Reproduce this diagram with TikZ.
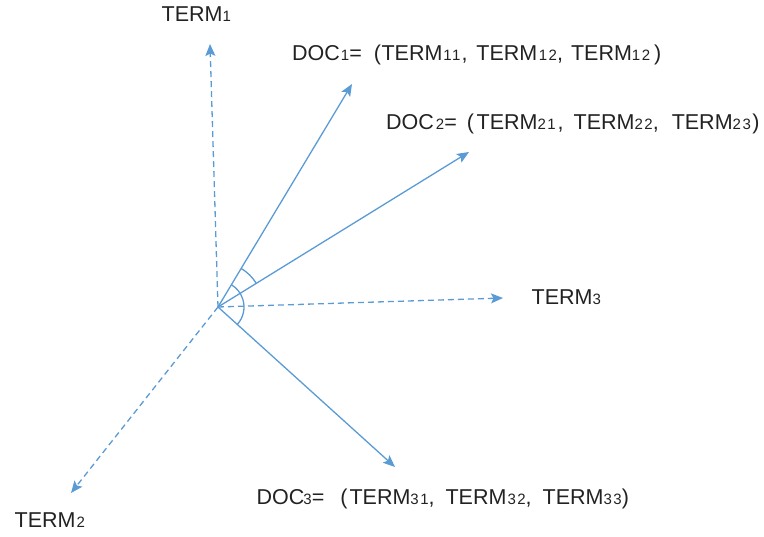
\documentclass[tikz,border=0pt]{standalone}
\usepackage{fontspec}
\setmainfont{Liberation Sans}
\newfontfamily\subdigits[LetterSpace=10]{Liberation Sans}
\usetikzlibrary{arrows.meta}
\definecolor{axisblue}{HTML}{5B9BD5}
\definecolor{labelgray}{HTML}{222222}
% index digits and manual gaps for the labels
\newcommand{\ix}[1]{{\subdigits\fontsize{15}{15}\selectfont #1}}
\newcommand{\gp}[1]{\hspace{#1pt}}
\begin{document}
\begin{tikzpicture}[x=1pt,y=-1pt,
  vec/.style={draw=axisblue,line width=1.3pt,-{Stealth[length=12pt,width=10pt,inset=2.5pt]}},
  axis/.style={vec,dash pattern=on 6pt off 4pt},
  angle/.style={draw=axisblue,line width=1.3pt},
  lbl/.style={anchor=base west,inner sep=0pt,text=labelgray,font=\fontsize{21.5}{24}\selectfont}]
\useasboundingbox (0,0) rectangle (764,537);
% origin and arrow tips
\coordinate (O) at (218,307);
\coordinate (t1) at (210,44);
\coordinate (t2) at (71,493);
\coordinate (t3) at (503,298);
\coordinate (d1) at (352,84);
\coordinate (d2) at (469,152);
\coordinate (d3) at (395,467);
% term axes
\draw[axis] (O) -- (t1);
\draw[axis] (O) -- (t2);
\draw[axis] (O) -- (t3);
% document vectors
\draw[vec] (O) -- (d1);
\draw[vec] (O) -- (d2);
\draw[vec] (O) -- (d3);
% angle marks
\draw[angle] ([shift={(-31.6:45)}]O) arc[start angle=-31.6,end angle=-58.9,radius=45];
\draw[angle] ([shift={(42:26)}]O) arc[start angle=42,end angle=-58.9,radius=26];
% labels
\node[lbl] (l1) at (161.5,21.7) {TERM\ix{1}};
\node[lbl] (l2) at (14.5,528) {TERM\gp{1}\ix{2}};
\node[lbl] (l3) at (531.5,305) {TERM\ix{3}};
\node[lbl] (ld1) at (292,61) {DOC\gp{1}\ix{1}=\gp{12}(\gp{0.5}TERM\gp{1}\ix{11}\gp{1},\gp{9}TERM\gp{1.5}\ix{12},\gp{8}TERM\ix{12}\gp{4})};
\node[lbl] (ld2) at (386,130) {DOC\gp{2}\ix{2}=\gp{10}(\gp{2.6}TERM\ix{21}\gp{2},\gp{10}TERM\ix{22},\gp{13}TERM\ix{23}\gp{1.5})};
\node[lbl] (ld3) at (256.5,505) {DOC\gp{-1}\ix{3}=\gp{16}(\gp{2}TERM\ix{31},\gp{11}TERM\gp{1}\ix{32},\gp{11}TERM\ix{33})};
\end{tikzpicture}
\end{document}
